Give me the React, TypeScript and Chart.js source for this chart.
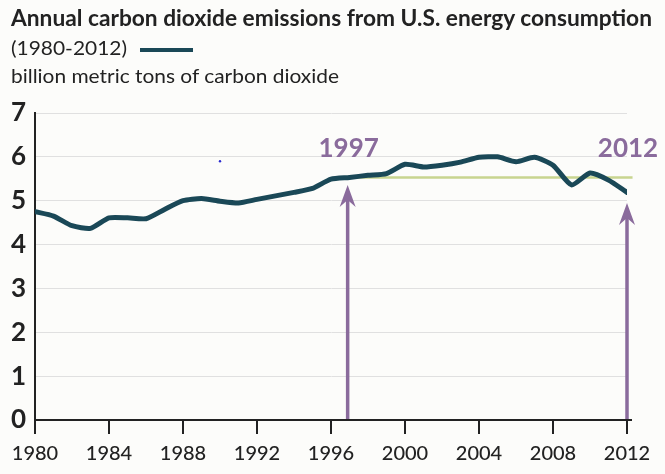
import React, { useEffect, useLayoutEffect, useRef } from "react";
import { Chart, registerables } from "chart.js";

Chart.register(...registerables);

// ---- data ----
const years = [
  1980, 1981, 1982, 1983, 1984, 1985, 1986, 1987, 1988, 1989, 1990,
  1991, 1992, 1993, 1994, 1995, 1996, 1997, 1998, 1999, 2000,
  2001, 2002, 2003, 2004, 2005, 2006, 2007, 2008, 2009, 2010, 2011, 2012,
];
const emissions = [
  4.75, 4.65, 4.43, 4.37, 4.61, 4.61, 4.59, 4.8, 5.0, 5.05, 4.99,
  4.95, 5.03, 5.11, 5.19, 5.28, 5.49, 5.53, 5.58, 5.62, 5.83,
  5.77, 5.81, 5.88, 5.99, 6.0, 5.89, 5.99, 5.81, 5.36, 5.63, 5.47, 5.19,
];
const referenceYears = [1997, 2012.3];
const referenceValue = 5.53;
const arrowYears = [1996.9, 2012];
const arrowTipValues = [5.36, 4.95];
const arrowLabels = ["1997", "2012"];
const arrowLabelValue = 6.0;
const strayYears = [1990];
const strayValues = [5.9];
const xTicks = [1980, 1984, 1988, 1992, 1996, 2000, 2004, 2008, 2012];
const yTicks = [0, 1, 2, 3, 4, 5, 6, 7];

const TITLE = "Annual carbon dioxide emissions from U.S. energy consumption";
const SERIES_LABEL = "(1980-2012)";
const UNITS = "billion metric tons of carbon dioxide";

const TEAL = "#1a4857";
const GREEN = "#c8d58f";
const PURPLE = "#8a6b9c";
const INK = "#222222";
const BG = "#fcfcfa";

const arrowPlugin = {
  id: "arrowPlugin",
  afterDatasetsDraw(chart: any) {
    const { ctx, scales, chartArea } = chart;
    const x = scales.x;
    const y = scales.y;
    ctx.save();
    ctx.strokeStyle = INK;
    ctx.lineWidth = 2;
    ctx.beginPath();
    ctx.moveTo(chartArea.right - 1, chartArea.bottom);
    ctx.lineTo(chartArea.right + 5, chartArea.bottom);
    ctx.stroke();

    arrowYears.forEach((yr, i) => {
      const px = x.getPixelForValue(yr);
      const base = y.getPixelForValue(0) - 1;
      const tip = y.getPixelForValue(arrowTipValues[i]);
      ctx.strokeStyle = PURPLE;
      ctx.lineWidth = 3.5;
      ctx.beginPath();
      ctx.moveTo(px, base);
      ctx.lineTo(px, tip + 14);
      ctx.stroke();
      ctx.fillStyle = PURPLE;
      ctx.beginPath();
      ctx.moveTo(px, tip);
      ctx.lineTo(px + 8, tip + 22);
      ctx.lineTo(px, tip + 15);
      ctx.lineTo(px - 8, tip + 22);
      ctx.closePath();
      ctx.fill();
      ctx.font = "bold 26px Lato";
      ctx.textAlign = "center";
      ctx.textBaseline = "alphabetic";
      ctx.fillText(arrowLabels[i], px + 1, y.getPixelForValue(arrowLabelValue));
    });
    ctx.restore();
  },
};

export default function App() {
  const canvasRef = useRef<HTMLCanvasElement | null>(null);
  const titleRef = useRef<HTMLSpanElement | null>(null);
  const seriesRef = useRef<HTMLSpanElement | null>(null);
  const unitsRef = useRef<HTMLSpanElement | null>(null);

  useLayoutEffect(() => {
    const fit = () => {
      const pairs: [HTMLSpanElement | null, number][] = [
        [titleRef.current, 641],
        [seriesRef.current, 116],
        [unitsRef.current, 328],
      ];
      pairs.forEach(([el, target]) => {
        if (!el) return;
        el.style.transform = "none";
        const w = el.getBoundingClientRect().width;
        if (w > 0) el.style.transform = `scaleX(${target / w})`;
      });
    };
    fit();
    if ((document as any).fonts && (document as any).fonts.ready) {
      (document as any).fonts.ready.then(fit);
    }
  }, []);

  useEffect(() => {
    document.body.style.margin = "0";
    document.body.style.background = BG;
    if (!canvasRef.current) return;
    const chart = new Chart(canvasRef.current, {
      type: "line",
      data: {
        datasets: [
          {
            label: "emissions",
            data: years.map((yr, i) => ({ x: yr, y: emissions[i] })),
            borderColor: TEAL,
            borderWidth: 5,
            pointRadius: 0,
            tension: 0.2,
            borderJoinStyle: "round",
            borderCapStyle: "round",
            order: 1,
          },
          {
            label: "reference",
            data: referenceYears.map((yr) => ({ x: yr, y: referenceValue })),
            borderColor: GREEN,
            borderWidth: 2.5,
            pointRadius: 0,
            clip: false as any,
            order: 2,
          },
          {
            label: "stray",
            data: strayYears.map((yr, i) => ({ x: yr, y: strayValues[i] })),
            showLine: false,
            pointRadius: 1.2,
            pointBackgroundColor: "#2a2ad0",
            pointBorderWidth: 0,
            order: 3,
          },
        ],
      },
      options: {
        animation: false,
        responsive: false,
        layout: { padding: { top: 113, right: 38, left: 0, bottom: 0 } },
        plugins: {
          legend: { display: false },
          tooltip: { enabled: false },
          title: { display: false },
        },
        scales: {
          x: {
            type: "linear",
            min: 1980,
            max: 2012,
            afterBuildTicks: (s: any) => {
              s.ticks = xTicks.map((v) => ({ value: v }));
            },
            afterFit: (s: any) => {
              s.height = 54;
            },
            grid: {
              drawOnChartArea: false,
              drawTicks: true,
              tickLength: 14,
              color: INK,
              lineWidth: 2,
            },
            border: { display: true, color: INK, width: 2 },
            ticks: {
              padding: 8,
              color: INK,
              font: { family: "Lato", size: 20, weight: "500" },
              maxRotation: 0,
              autoSkip: false,
              callback: (v: any) => String(v),
            },
          },
          y: {
            type: "linear",
            min: 0,
            max: 7,
            afterBuildTicks: (s: any) => {
              s.ticks = yTicks.map((v) => ({ value: v }));
            },
            afterFit: (s: any) => {
              s.width = 35;
            },
            grid: { color: "#e0e0e0", lineWidth: 1, drawTicks: false },
            border: { display: true, color: INK, width: 2 },
            ticks: {
              padding: 9,
              color: INK,
              font: { family: "Lato", size: 26, weight: "bold" },
              callback: (v: any) => String(v),
            },
          },
        },
      },
      plugins: [arrowPlugin],
    } as any);
    return () => chart.destroy();
  }, []);

  const textBase: React.CSSProperties = {
    position: "absolute",
    left: 11,
    whiteSpace: "nowrap",
    color: INK,
    fontFamily: "Lato",
    lineHeight: "normal",
    transformOrigin: "left center",
    display: "inline-block",
  };

  return (
    <div
      style={{
        position: "absolute",
        left: 0,
        top: 0,
        width: 665,
        height: 474,
        background: BG,
        overflow: "hidden",
      }}
    >
      <canvas
        ref={canvasRef}
        width={665}
        height={474}
        style={{ position: "absolute", left: 0, top: 0, width: 665, height: 474 }}
      />
      <span ref={titleRef} style={{ ...textBase, top: 4, fontSize: 22, fontWeight: 700 }}>
        {TITLE}
      </span>
      <span ref={seriesRef} style={{ ...textBase, top: 35, fontSize: 20, fontWeight: 400 }}>
        {SERIES_LABEL}
      </span>
      <span
        style={{
          position: "absolute",
          left: 140,
          top: 48,
          width: 53,
          height: 4,
          background: TEAL,
        }}
      />
      <span ref={unitsRef} style={{ ...textBase, top: 63, fontSize: 20, fontWeight: 400 }}>
        {UNITS}
      </span>
    </div>
  );
}
